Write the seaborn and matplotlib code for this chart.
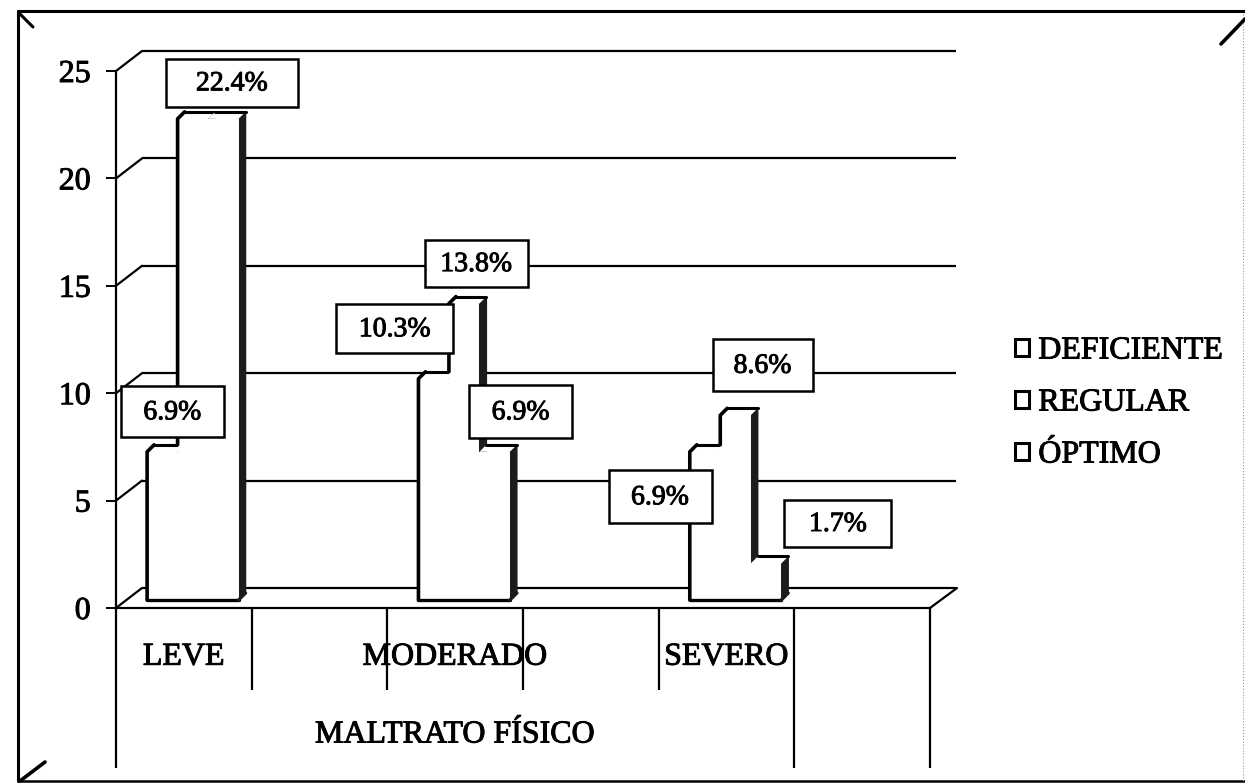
#!/usr/bin/env python3
# -*- coding: utf-8 -*-

import matplotlib
matplotlib.use('Agg')
import matplotlib.patheffects as pe
import matplotlib.pyplot as plt
from matplotlib.lines import Line2D
from matplotlib.patches import Patch, Polygon, Rectangle
from matplotlib.transforms import Affine2D, IdentityTransform
import pandas as pd
import seaborn as sns

# data
maltrato = ['LEVE', 'MODERADO', 'SEVERO']
niveles = ['DEFICIENTE', 'REGULAR', 'ÓPTIMO']
deficiente = [6.9, 10.3, 6.9]
regular = [22.4, 13.8, 8.6]
optimo = [22.4, 6.9, 1.7]

# front axis has an empty slot after every group
slots = ['LEVE', ' ', 'MODERADO', '  ', 'SEVERO', '   ']
tick_labels = ['LEVE', '', 'MODERADO', '', 'SEVERO', '']
y_ticks = [0, 5, 10, 15, 20, 25]

# (bar index, text, dx, dy, width, height) in pixels, boxes hang off the bar top
label_boxes = [
    (0, '6.9%', 10, 40, 103, 51),
    (1, '22.4%', 39, 36, 132, 48),
    (3, '10.3%', -39, 50, 117, 49),
    (4, '13.8%', 12, 40, 103, 47),
    (5, '6.9%', 26, 40, 103, 53),
    (6, '6.9%', -45, -45, 103, 53),
    (7, '8.6%', 27, 50, 100, 52),
    (8, '1.7%', 72, 40, 107, 47),
]

W, H = 1245, 784
# scanned print looks heavier than the plain font
ink = [pe.withStroke(linewidth=0.7, foreground='black')]

sns.set_theme(style='white')
plt.rcParams['font.family'] = ['Liberation Serif', 'DejaVu Serif']

df = pd.DataFrame({
    'maltrato': maltrato * 3,
    'nivel': [n for n in niveles for _ in maltrato],
    'porcentaje': deficiente + regular + optimo,
})

fig = plt.figure(figsize=(W / 100, H / 100), dpi=100, facecolor='white')
ax = fig.add_axes([116 / W, 1 - 608 / H, 814 / W, 537 / H])
ax.patch.set_alpha(0)

sns.barplot(data=df, x='maltrato', y='porcentaje', hue='nivel', order=slots,
            hue_order=niveles, palette=['white'] * 3, saturation=1, width=0.674,
            linewidth=0, legend=False, ax=ax)

ax.set_xlim(-0.5, 5.5)
ax.set_ylim(0, 25)

# axes and ticks
for s in ['top', 'right']:
    ax.spines[s].set_visible(False)
ax.spines['left'].set_linewidth(1.6)
ax.spines['left'].set_color('black')
ax.spines['bottom'].set_linewidth(1.6)
ax.spines['bottom'].set_color('black')

ax.set_yticks(y_ticks)
ax.tick_params(axis='y', left=True, length=7.2, width=1.4, color='black',
               pad=11, labelsize=23, labelcolor='black')
ax.set_ylabel('')

ax.set_xticks(range(6), tick_labels)
ax.tick_params(axis='x', which='major', bottom=False, pad=19, labelsize=23,
               labelcolor='black')
ax.set_xticks([i - 0.5 for i in range(7)], minor=True)
ax.tick_params(axis='x', which='minor', bottom=True, width=1.6, color='black')
long_ticks = [0, 5, 6]
for i, tick in enumerate(ax.xaxis.get_minor_ticks()):
    tick.tick1line.set_markersize(115 if i in long_ticks else 59)

ax.set_xlabel('MALTRATO FÍSICO', fontsize=23, color='black', va='center')
ax.xaxis.set_label_coords(0.4165, -0.2365)

# back wall
back = ax.transData + Affine2D().translate(26, 20)
ax.hlines(y_ticks, -0.5, 5.5, colors='black', linewidth=1.6, transform=back,
          clip_on=False, zorder=1)
to_px = ax.transData.transform
pix = IdentityTransform()
for v in y_ticks:
    x0, y0 = to_px((-0.5, v))
    ax.plot([x0, x0 + 26], [y0, y0 + 20], color='black', lw=1.6, transform=pix,
            clip_on=False, zorder=1)
x0, y0 = to_px((5.5, 0))
ax.plot([x0, x0 + 27], [y0, y0 + 20], color='black', lw=1.6, transform=pix,
        clip_on=False, zorder=1)

# bars: seaborn draws the fronts, side and top faces are worked out from them
bar_shift = Affine2D().translate(9, 8)
d = 7
bars = sorted([p for p in ax.patches if p.get_height() > 0], key=lambda p: p.get_x())
tops = []
for i, bar in enumerate(bars):
    z = 3 + i
    bar.set_transform(ax.transData + bar_shift)
    bar.set_clip_on(False)
    bar.set_zorder(z + 0.5)
    (xa, ya) = bar_shift.transform(to_px((bar.get_x(), 0)))
    (xb, yb) = bar_shift.transform(to_px((bar.get_x() + bar.get_width(), bar.get_height())))
    tops.append(((xa + xb) / 2, yb))

    prev_h = 0 if i % 3 == 0 else bars[i - 1].get_height()
    yp = ya if prev_h == 0 else bar_shift.transform(to_px((0, prev_h)))[1] + d

    ax.add_patch(Polygon([(xb, ya), (xb + d, ya + d), (xb + d, yb + d), (xb, yb)],
                         closed=True, facecolor='#1c1c1c', edgecolor='#1c1c1c',
                         transform=pix, clip_on=False, zorder=z))
    ax.add_patch(Polygon([(xa, yb), (xa + d, yb + d), (xb + d, yb + d), (xb, yb)],
                         closed=True, facecolor='white', edgecolor='none',
                         transform=pix, clip_on=False, zorder=z + 0.6))
    if bar.get_height() > prev_h:
        ax.plot([xa, xa, xa + d], [yp, yb, yb + d], color='black', lw=2.6,
                solid_joinstyle='round', transform=pix, clip_on=False, zorder=z + 0.7)
    ax.plot([xa + d, xb + d], [yb + d, yb + d], color='black', lw=2.2,
            transform=pix, clip_on=False, zorder=z + 0.7)
    ax.plot([xa, xb], [ya, ya], color='black', lw=2.4, transform=pix,
            clip_on=False, zorder=z + 0.7)
    if i % 3 == 2:
        ax.plot([xb, xb + d], [ya, ya + d], color='#1c1c1c', lw=2.4, transform=pix,
                clip_on=False, zorder=z + 0.7)

# value labels
for idx, text, dx, dy, w, h in label_boxes:
    cx, cy = tops[idx][0] + dx, tops[idx][1] + dy
    ax.add_patch(Rectangle((cx - w / 2, cy - h / 2), w, h, facecolor='white',
                           edgecolor='black', linewidth=1.8, transform=pix,
                           clip_on=False, zorder=20))
    ax.text(cx, cy - 1, text, ha='center', va='center', fontsize=20, color='black',
            path_effects=ink, transform=pix, zorder=21)

# legend
handles = [Patch(facecolor='white', edgecolor='black', linewidth=2.2) for _ in niveles]
leg = ax.legend(handles, niveles, loc='center left', bbox_to_anchor=(1015 / W, 1 - 403 / H),
                bbox_transform=fig.transFigure, frameon=False, fontsize=23,
                labelcolor='black', handlelength=0.45, handleheight=0.45,
                handletextpad=0.28, labelspacing=0.72, borderaxespad=0, borderpad=0)

for t in ax.get_xticklabels() + ax.get_yticklabels() + leg.get_texts() + [ax.xaxis.label]:
    t.set_path_effects(ink)


# outer frame of the scanned page
def page_line(xs, ys, **kw):
    fig.add_artist(Line2D([x / W for x in xs], [1 - y / H for y in ys],
                          color=kw.pop('color', 'black'), **kw))


page_line([18, 1245], [11, 11], lw=2.2)
page_line([18, 18], [11, 781], lw=2.2)
page_line([18, 1245], [781, 781], lw=1.8)
page_line([1243, 1243], [14, 781], lw=0.8, color='#999999', linestyle=':')
page_line([20, 33], [14, 27], lw=2.2)
page_line([1221, 1245], [44, 19], lw=2.6)
page_line([20, 45], [781, 762], lw=2.6)

plt.savefig('out.png', dpi=100)
